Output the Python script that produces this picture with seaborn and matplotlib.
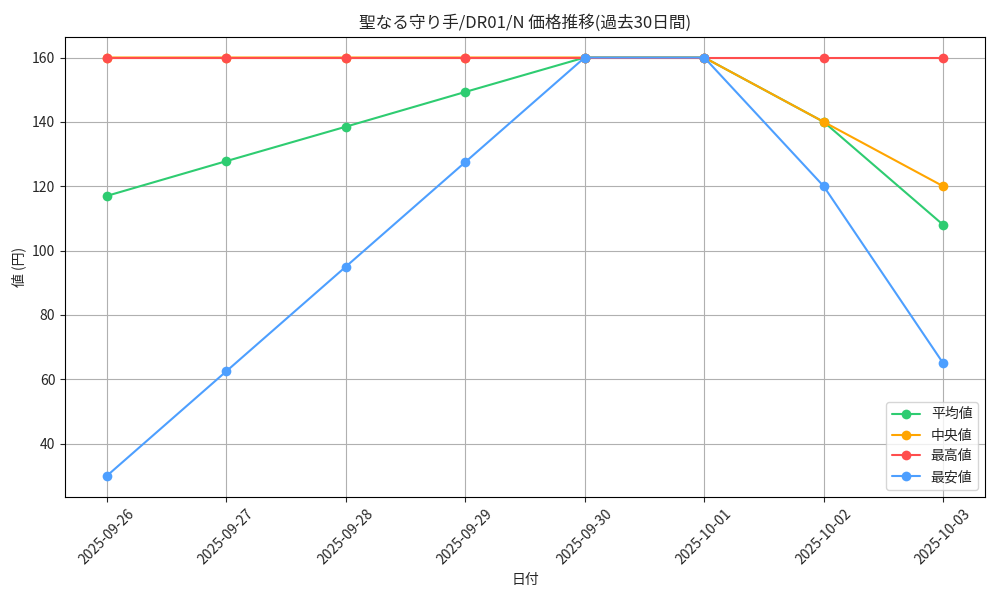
import matplotlib
matplotlib.use("Agg")
import matplotlib.pyplot as plt
import pandas as pd
import seaborn as sns

dates = ["2025-09-26", "2025-09-27", "2025-09-28", "2025-09-29",
         "2025-09-30", "2025-10-01", "2025-10-02", "2025-10-03"]
avg_price = [117, 127.8, 138.5, 149.3, 160, 160, 140, 108]
median_price = [160, 160, 160, 160, 160, 160, 140, 120]
max_price = [160, 160, 160, 160, 160, 160, 160, 160]
min_price = [30, 62.5, 95, 127.5, 160, 160, 120, 65]

series_names = ["平均値", "中央値", "最高値", "最安値"]
series_colors = ["#2ecc71", "#ffa500", "#ff4d4d", "#4d9fff"]

sns.set_style("ticks")
plt.rcParams['font.family'] = ['Noto Sans CJK JP', 'DejaVu Sans']

frames = []
for name, values in zip(series_names, [avg_price, median_price, max_price, min_price]):
    frames.append(pd.DataFrame({"date": dates, "price": values, "kind": name}))
df = pd.concat(frames, ignore_index=True)

fig, ax = plt.subplots(figsize=(10, 6), dpi=100)
sns.lineplot(data=df, x="date", y="price", hue="kind", hue_order=series_names,
             palette=series_colors, marker="o", markersize=7, markeredgewidth=0,
             linewidth=1.5, ax=ax)

ax.set_title("聖なる守り手/DR01/N 価格推移(過去30日間)")
ax.set_xlabel("日付")
ax.set_ylabel("値 (円)")
ax.grid(True, color="#b0b0b0", linewidth=0.8)
plt.xticks(rotation=45)
ax.legend(loc="lower right", title=None)
for spine in ax.spines.values():
    spine.set_visible(True)
    spine.set_color("black")

fig.subplots_adjust(left=0.065, right=0.985, top=0.939, bottom=0.172)
plt.savefig("out.png")
